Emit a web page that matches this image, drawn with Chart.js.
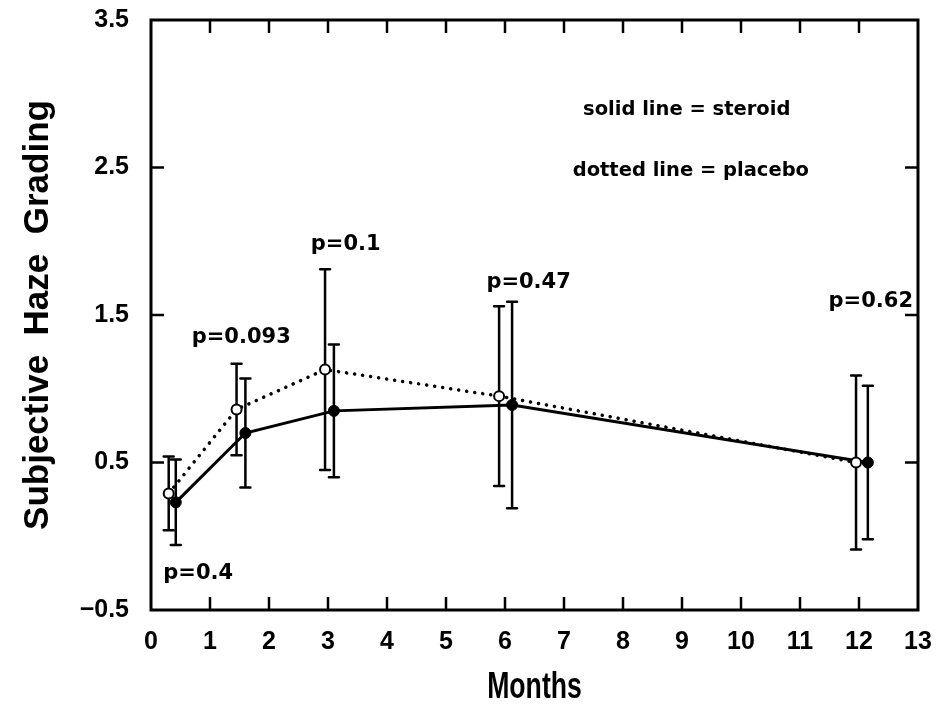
<!DOCTYPE html>
<html>
<head>
<meta charset="utf-8">
<script src="https://cdn.jsdelivr.net/npm/chart.js@4"></script>
<style>
  html, body { margin: 0; padding: 0; background: #fff; }
  canvas { display: block; }
</style>
</head>
<body>
<canvas id="haze" width="940" height="724"></canvas>
<script>
// months after surgery, mean haze grade and error (sd) for each group
const placeboMonths = [0.3, 1.45, 2.95, 5.9, 11.95];
const placeboMean = [0.29, 0.86, 1.13, 0.95, 0.5];
const placeboErr = [0.25, 0.31, 0.68, 0.61, 0.59];

const steroidMonths = [0.42, 1.6, 3.1, 6.12, 12.15];
const steroidMean = [0.23, 0.70, 0.85, 0.89, 0.5];
const steroidErr = [0.29, 0.37, 0.45, 0.70, 0.52];

const yTicks = [-0.5, 0.5, 1.5, 2.5, 3.5];
const xTicks = [0, 1, 2, 3, 4, 5, 6, 7, 8, 9, 10, 11, 12, 13];

// p values written over each time point
const pLabels = ['p=0.4', 'p=0.093', 'p=0.1', 'p=0.47', 'p=0.62'];
const pAt = [[0.8, -0.25], [1.53, 1.35], [3.3, 1.98], [6.4, 1.72], [12.2, 1.59]];
const keyLabels = ['solid line = steroid', 'dotted line = placebo'];
const keyAt = [[9.08, 2.89], [9.15, 2.48]];

const toPoints = (xs, ys) => xs.map((x, i) => ({ x: x, y: ys[i] }));

const errorBars = {
  id: 'errorBars',
  beforeDatasetsDraw(chart) {
    const { ctx, scales: { x, y } } = chart;
    const groups = [
      [placeboMonths, placeboMean, placeboErr],
      [steroidMonths, steroidMean, steroidErr],
    ];
    ctx.save();
    ctx.strokeStyle = '#000';
    ctx.lineWidth = 2.5;
    ctx.lineCap = 'round';
    groups.forEach(([xs, ms, es]) => {
      xs.forEach((m, i) => {
        const px = x.getPixelForValue(m);
        const top = y.getPixelForValue(ms[i] + es[i]);
        const bot = y.getPixelForValue(ms[i] - es[i]);
        ctx.beginPath();
        ctx.moveTo(px, top); ctx.lineTo(px, bot);
        ctx.moveTo(px - 5, top); ctx.lineTo(px + 5, top);
        ctx.moveTo(px - 5, bot); ctx.lineTo(px + 5, bot);
        ctx.stroke();
      });
    });
    ctx.restore();
  },
};

const frame = {
  id: 'frame',
  afterDraw(chart) {
    const { ctx, chartArea: a, scales: { x, y } } = chart;
    ctx.save();
    ctx.strokeStyle = '#000';
    ctx.lineWidth = 3;
    ctx.strokeRect(a.left, a.top, a.right - a.left, a.bottom - a.top);
    ctx.lineWidth = 2.5;
    ctx.beginPath();
    xTicks.slice(1, -1).forEach(v => {
      const px = x.getPixelForValue(v);
      ctx.moveTo(px, a.bottom); ctx.lineTo(px, a.bottom - 13);
      ctx.moveTo(px, a.top); ctx.lineTo(px, a.top + 13);
    });
    yTicks.slice(1, -1).forEach(v => {
      const py = y.getPixelForValue(v);
      ctx.moveTo(a.left, py); ctx.lineTo(a.left + 13, py);
      ctx.moveTo(a.right, py); ctx.lineTo(a.right - 13, py);
    });
    ctx.stroke();

    // notes inside the box
    ctx.fillStyle = '#000';
    ctx.textAlign = 'center';
    ctx.textBaseline = 'middle';
    ctx.font = 'bold 21px "DejaVu Sans"';
    pLabels.forEach((t, i) => {
      ctx.fillText(t, x.getPixelForValue(pAt[i][0]), y.getPixelForValue(pAt[i][1]));
    });
    ctx.font = 'bold 19.5px "DejaVu Sans"';
    keyLabels.forEach((t, i) => {
      ctx.fillText(t, x.getPixelForValue(keyAt[i][0]), y.getPixelForValue(keyAt[i][1]));
    });

    // x axis title, squeezed to look like the narrow face in the original
    ctx.translate((a.left + a.right) / 2, 688);
    ctx.scale(0.72, 1);
    ctx.font = 'bold 37px "Liberation Sans"';
    ctx.fillText('Months', 0, 0);
    ctx.restore();
  },
};

new Chart(document.getElementById('haze'), {
  type: 'scatter',
  data: {
    datasets: [
      {
        label: 'placebo',
        data: toPoints(placeboMonths, placeboMean),
        showLine: true,
        borderColor: '#000',
        borderWidth: 3.5,
        borderDash: [0.1, 8],
        borderCapStyle: 'round',
        pointRadius: 5,
        pointBorderWidth: 2,
        pointBackgroundColor: '#fff',
        pointBorderColor: '#000',
      },
      {
        label: 'steroid',
        data: toPoints(steroidMonths, steroidMean),
        showLine: true,
        borderColor: '#000',
        borderWidth: 3,
        pointRadius: 5.5,
        pointBorderWidth: 1,
        pointBackgroundColor: '#000',
        pointBorderColor: '#000',
      },
    ],
  },
  options: {
    responsive: false,
    animation: false,
    events: [],
    layout: { padding: { top: 20, right: 22, left: 0, bottom: 0 } },
    plugins: { legend: { display: false }, tooltip: { enabled: false } },
    scales: {
      x: {
        type: 'linear',
        min: 0,
        max: 13,
        grid: { display: false, drawTicks: false },
        border: { display: false },
        afterBuildTicks: s => { s.ticks = xTicks.map(v => ({ value: v })); },
        afterFit: s => { s.height = 114; s.paddingLeft = 0; s.paddingRight = 0; },
        ticks: {
          autoSkip: false,
          maxRotation: 0,
          padding: 17,
          color: '#000',
          font: { family: '"Liberation Sans"', weight: 'bold', size: 25 },
        },
      },
      y: {
        type: 'linear',
        min: -0.5,
        max: 3.5,
        grid: { display: false, drawTicks: false },
        border: { display: false },
        afterBuildTicks: s => { s.ticks = yTicks.map(v => ({ value: v })); },
        afterFit: s => { s.width = 151; s.paddingTop = 0; s.paddingBottom = 0; },
        ticks: {
          padding: 22,
          color: '#000',
          callback: v => (v < 0 ? '\u2212' + Math.abs(v).toFixed(1) : v.toFixed(1)),
          font: { family: '"Liberation Sans"', weight: 'bold', size: 25 },
        },
        title: {
          display: true,
          text: 'Subjective  Haze  Grading',
          color: '#000',
          padding: { top: 17, bottom: 0 },
          font: { family: '"Liberation Sans"', weight: 'bold', size: 35 },
        },
      },
    },
  },
  plugins: [errorBars, frame],
});
</script>
</body>
</html>
